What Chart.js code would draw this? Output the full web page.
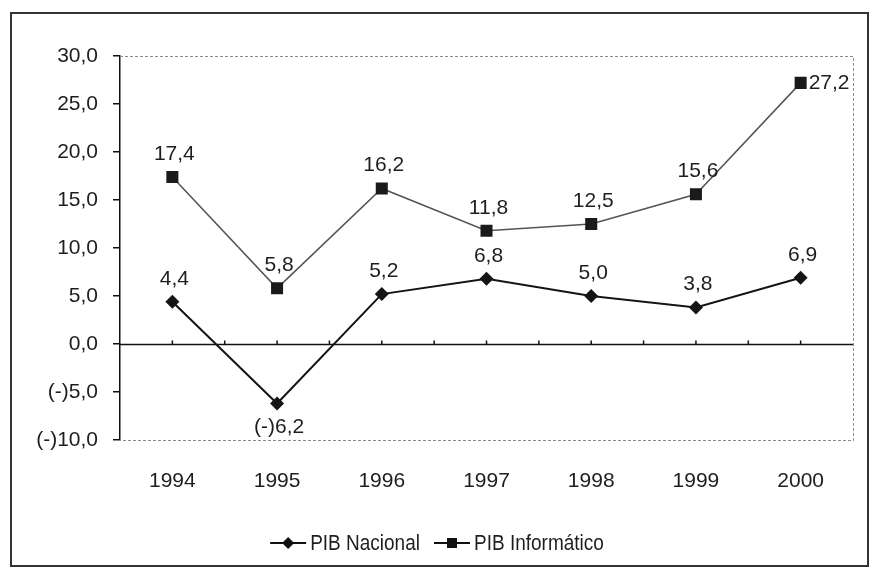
<!DOCTYPE html>
<html>
<head>
<meta charset="utf-8">
<script src="https://cdn.jsdelivr.net/npm/chart.js@4.4.1/dist/chart.umd.min.js"></script>
<style>
  html, body { margin: 0; padding: 0; background: #fff; }
  #wrap { width: 871px; height: 571px; position: relative; }
</style>
</head>
<body>
<div id="wrap"><canvas id="myChart" width="871" height="571"></canvas></div>
<script>
const years = ['1994', '1995', '1996', '1997', '1998', '1999', '2000'];
const pibNacional = [4.4, -6.2, 5.2, 6.8, 5.0, 3.8, 6.9];
const pibInformatico = [17.4, 5.8, 16.2, 11.8, 12.5, 15.6, 27.2];
const yTicks = [-10, -5, 0, 5, 10, 15, 20, 25, 30];

const FONT = '"Liberation Sans", Arial, sans-serif';
const INK = '#1e1e1e';

function fmt(v) {
    const s = Math.abs(v).toFixed(1).replace('.', ',');
    return v < 0 ? '(-)' + s : s;
}

// outer frame, dotted plot frame, zero line with ticks, legend
const framePlugin = {
    id: 'frame',
    beforeDatasetsDraw(chart) {
        const c = chart.ctx;
        const a = chart.chartArea;
        const x = chart.scales.x;
        const y = chart.scales.y;
        c.save();
        c.strokeStyle = '#8a8a8a';
        c.lineWidth = 1;
        c.setLineDash([3, 2]);
        c.beginPath();
        c.moveTo(a.left, a.top + 0.5);
        c.lineTo(a.right + 0.5, a.top + 0.5);
        c.lineTo(a.right + 0.5, a.bottom + 0.5);
        c.lineTo(a.left, a.bottom + 0.5);
        c.stroke();
        c.setLineDash([]);

        const y0 = Math.round(y.getPixelForValue(0)) + 0.5;
        c.strokeStyle = '#111';
        c.lineWidth = 1.5;
        c.beginPath();
        c.moveTo(a.left, y0);
        c.lineTo(a.right, y0);
        for (let i = 0; i < years.length; i++) {
            const px = x.getPixelForValue(i);
            c.moveTo(px, y0);
            c.lineTo(px, y0 - 4);
            if (i < years.length - 1) {
                const bx = (px + x.getPixelForValue(i + 1)) / 2;
                c.moveTo(bx, y0);
                c.lineTo(bx, y0 - 4);
            }
        }
        c.stroke();
        c.restore();
    },
    afterDraw(chart) {
        const c = chart.ctx;
        c.save();
        c.strokeStyle = '#333';
        c.lineWidth = 2;
        c.strokeRect(11, 13, 857, 553);

        // legend
        c.font = '19px ' + FONT;
        c.textBaseline = 'middle';
        const items = chart.data.datasets.map(d => ({ label: d.label, style: d.pointStyle }));
        const sym = 36, gap = 4, sep = 14;
        let total = 0;
        items.forEach((it, i) => {
            total += sym + gap + c.measureText(it.label).width + (i ? sep : 0);
        });
        let lx = 437 - total / 2;
        const ly = 543;
        items.forEach((it, i) => {
            if (i) lx += sep;
            c.strokeStyle = '#111';
            c.lineWidth = 2;
            c.beginPath();
            c.moveTo(lx, ly);
            c.lineTo(lx + sym, ly);
            c.stroke();
            c.fillStyle = '#111';
            const cx = lx + sym / 2;
            c.beginPath();
            if (it.style === 'rectRot') {
                c.moveTo(cx, ly - 6); c.lineTo(cx + 6, ly); c.lineTo(cx, ly + 6); c.lineTo(cx - 6, ly);
            } else {
                c.rect(cx - 5, ly - 5, 10, 10);
            }
            c.fill();
            lx += sym + gap;
            c.fillStyle = INK;
            c.textAlign = 'left';
            c.save();
            c.translate(lx, ly + 1);
            c.scale(1, 1.18);
            c.fillText(it.label, 0, 0);
            c.restore();
            lx += c.measureText(it.label).width;
        });
        c.restore();
    }
};

// value labels next to each point
const valueLabels = {
    id: 'valueLabels',
    afterDatasetsDraw(chart) {
        const c = chart.ctx;
        c.save();
        c.font = '21px ' + FONT;
        c.fillStyle = INK;
        c.textBaseline = 'middle';
        chart.data.datasets.forEach((ds, di) => {
            const meta = chart.getDatasetMeta(di);
            meta.data.forEach((pt, i) => {
                const v = ds.data[i];
                const txt = fmt(v);
                if (ds.rightLast && i === ds.data.length - 1) {
                    c.textAlign = 'left';
                    c.fillText(txt, pt.x + 8, pt.y);
                } else if (v < 0) {
                    c.textAlign = 'center';
                    c.fillText(txt, pt.x + 2, pt.y + 24);
                } else {
                    c.textAlign = 'center';
                    c.fillText(txt, pt.x + 2, pt.y - 23);
                }
            });
        });
        c.restore();
    }
};

const ctx = document.getElementById('myChart').getContext('2d');

const myChart = new Chart(ctx, {
    type: 'line',
    data: {
        labels: years,
        datasets: [
            {
                label: 'PIB Nacional',
                data: pibNacional,
                borderColor: '#151515',
                backgroundColor: '#151515',
                borderWidth: 2,
                pointStyle: 'rectRot',
                pointRadius: 7,
                pointBorderWidth: 0,
                tension: 0
            },
            {
                label: 'PIB Informático',
                data: pibInformatico,
                borderColor: '#555',
                backgroundColor: '#1a1a1a',
                borderWidth: 1.5,
                pointStyle: 'rect',
                pointRadius: 8.5,
                pointBorderWidth: 0,
                tension: 0,
                rightLast: true
            }
        ]
    },
    options: {
        responsive: false,
        animation: false,
        layout: { padding: { left: 0, top: 56, right: 18, bottom: 81 } },
        plugins: {
            legend: { display: false },
            tooltip: { enabled: false }
        },
        scales: {
            x: {
                offset: true,
                grid: { display: false },
                border: { display: false },
                ticks: {
                    color: INK,
                    font: { family: FONT, size: 21 },
                    padding: 21,
                    maxRotation: 0
                },
                afterFit(scale) { scale.height = 50; }
            },
            y: {
                min: -10,
                max: 30,
                afterBuildTicks(scale) { scale.ticks = yTicks.map(v => ({ value: v })); },
                grid: {
                    drawOnChartArea: false,
                    color: '#111',
                    lineWidth: 1.5,
                    tickLength: 7
                },
                border: { display: true, color: '#111', width: 1.5 },
                ticks: {
                    color: INK,
                    font: { family: FONT, size: 21 },
                    padding: 15,
                    callback: (v) => fmt(v)
                },
                afterFit(scale) { scale.width = 120; }
            }
        }
    },
    plugins: [framePlugin, valueLabels]
});
</script>
</body>
</html>
